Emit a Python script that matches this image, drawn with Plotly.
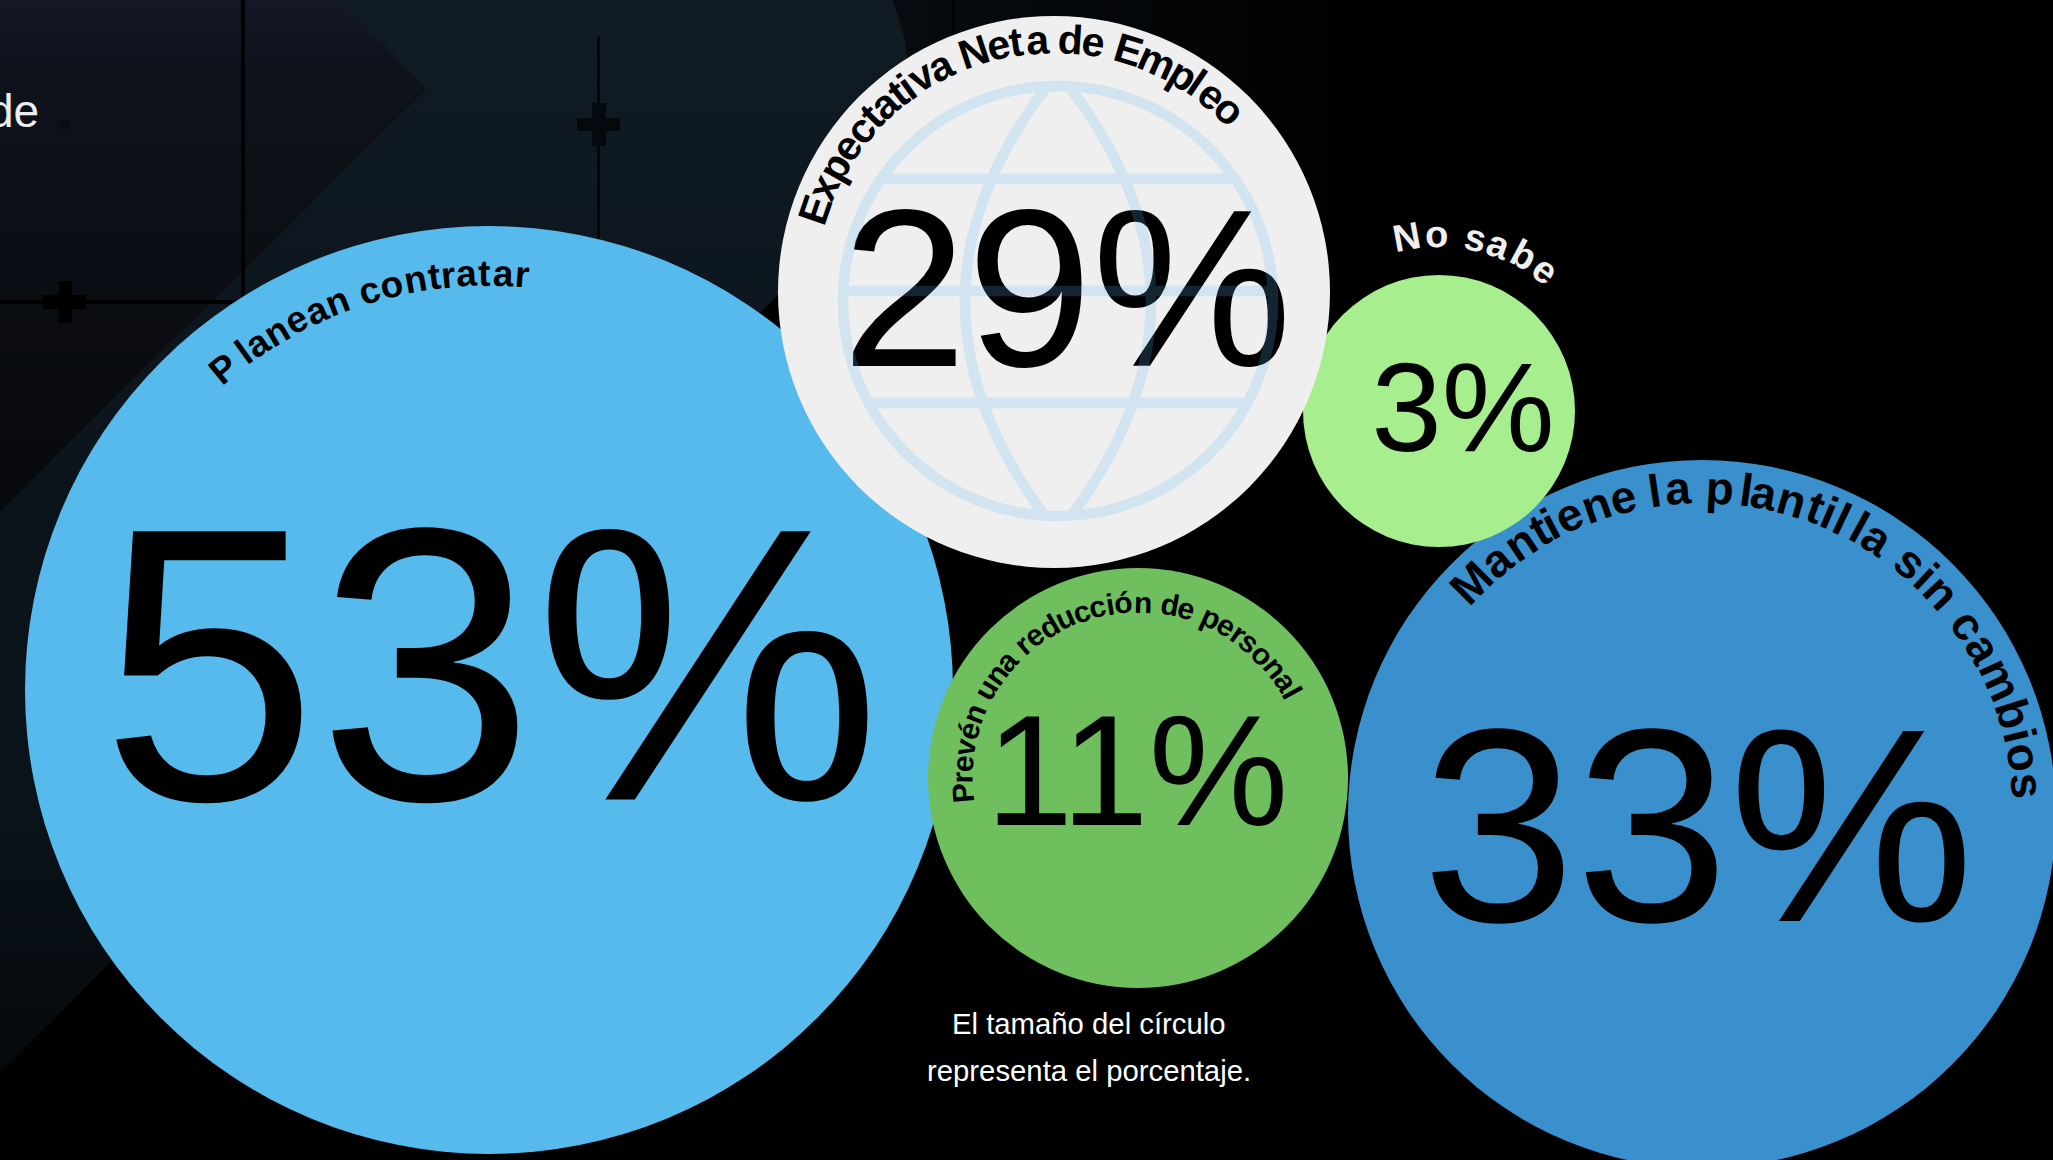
import math
import plotly.graph_objects as go

# ---------- data ----------
categories = ["Planean contratar", "Mantiene la plantilla sin cambios", "Prevén una reducción de personal",
              "No sabe", "Expectativa Neta de Empleo"]
values = [53, 33, 11, 3, 29]
caption_lines = ["El tamaño del círculo", "representa el porcentaje."]
cropped_word = "de"

# ---------- layout of the picture (pixel space) ----------
W, H = 2053, 1160
centers_x = [489, 1702, 1138, 1439, 1054]
centers_y = [690, 814, 778, 411, 292]
radii = [464, 354, 210, 136, 276]
colors = ["#56BAED", "#3A90CC", "#70BF5F", "#A7EE8E", "#EFEFEF"]
pct_x = [491, 1698, 1137, 1463, 1067]
pct_y = [702, 852, 786, 419, 310]
pct_size = [390, 276, 157, 127, 225]
arc_radius = [417, 327, 176, 177, 253]
arc_start = [-39.5, -45, -95, -10.5, -71]
arc_end = [4.5, 85, 61, 37, 44]
arc_size = [37, 46, 30, 38, 41]
arc_color = ["#000000", "#000000", "#000000", "#EFEFEF", "#000000"]
# uneven letter gaps seen in the reference: {index of the letter: extra width before it}
arc_gaps = [{1: 170, 15: 40},
            {4: -60, 9: -60, 10: 60, 13: 90, 14: -60, 19: 110, 16: 30},
            {19: 50},
            {},
            {8: -40, 9: 40, 15: 110, 16: -30, 24: 70, 23: -40}]

CW = {"a": 556, "b": 611, "c": 556, "d": 611, "e": 556, "f": 333, "g": 611, "h": 611, "i": 278, "j": 278,
      "k": 556, "l": 278, "m": 889, "n": 611, "o": 611, "p": 611, "q": 611, "r": 389, "s": 556, "t": 333,
      "u": 611, "v": 556, "w": 778, "x": 556, "y": 556, "z": 500, " ": 278, "E": 667, "M": 833, "N": 722,
      "P": 667, "é": 556, "ó": 611}


def arc_annotations(label, cx, cy, rad, a0, a1, size, color, gaps):
    mids, run = [], 0
    for i, c in enumerate(label):
        run += gaps.get(i, 0)
        v = CW[c]
        mids.append(run + v / 2)
        run += v
    out = []
    for ch, m in zip(label, mids):
        th = a0 + (m - mids[0]) / (mids[-1] - mids[0]) * (a1 - a0)
        if ch == " ":
            continue
        t = math.radians(th)
        out.append(dict(x=cx + rad * math.sin(t), y=cy - rad * math.cos(t), text=ch, textangle=th,
                        showarrow=False, xanchor="center", yanchor="middle", xref="x", yref="y",
                        font=dict(family="Liberation Sans", size=size, color=color, weight="bold")))
    return out


fig = go.Figure()


def poly(xs, ys, grad):
    fig.add_trace(go.Scatter(x=xs, y=ys, mode="lines", line=dict(width=0), fill="toself",
                             fillgradient=grad, hoverinfo="skip", showlegend=False))


# background shapes
poly([893, 2053, 2053, 930, 930, 912, 905, 893], [0, 0, 292, 292, 143, 100, 40, 0],
     dict(type="horizontal", start=900, stop=1380, colorscale=[[0, "#070c10"], [1, "#000000"]]))
poly([0, 893, 905, 912, 930, 0, 0], [0, 0, 40, 100, 143, 1073, 0],
     dict(type="vertical", start=0, stop=1073,
          colorscale=[[0, "#101b24"], [0.45, "#0c141b"], [0.75, "#0b131a"], [1, "#04090b"]]))
poly([0, 338, 427, 0, 0], [0, 0, 89, 511, 0],
     dict(type="vertical", start=0, stop=511,
          colorscale=[[0, "#141826"], [0.15, "#0e121b"], [0.5, "#0b0e14"], [1, "#08090b"]]))

# grid lines and crosses of the backdrop
def bar(x0, x1, y0, y1, col):
    fig.add_trace(go.Scatter(x=[x0, x1, x1, x0, x0], y=[y0, y0, y1, y1, y0], mode="lines", line=dict(width=0),
                             fill="toself", fillcolor=col, hoverinfo="skip", showlegend=False))


for b in [(241, 245, 0, 330, "#000000"), (0, 240, 300, 304, "#000000"), (43, 86, 295, 309, "#000000"),
          (59, 72, 281, 323, "#000000"), (597, 600, 36, 240, "#03070a"), (577, 620, 118, 131, "#03090c"),
          (592, 606, 103, 146, "#03090c"), (952, 955, 0, 60, "#020406"), (59, 70, 119, 130, "#0a0d13")]:
    bar(*b)

# circles
for cx, cy, r, c in zip(centers_x, centers_y, radii, colors):
    fig.add_trace(go.Scatter(x=[cx], y=[cy], mode="markers", hoverinfo="skip", showlegend=False, cliponaxis=False,
                             marker=dict(size=2 * r, color=c, line=dict(width=0), opacity=1)))

# percentages
for v, x, y, s in zip(values, pct_x, pct_y, pct_size):
    fig.add_trace(go.Scatter(x=[x], y=[y], mode="text", text=[f"{v}%"], textposition="middle center",
                             hoverinfo="skip", showlegend=False, cliponaxis=False,
                             textfont=dict(family="Liberation Sans", size=s, color="#000000")))

# globe drawn over the 29 %
gx, gy, gr = 1058, 301, 215
k = 0.5523 * gr
globe = (f"M {gx-gr} {gy} C {gx-gr} {gy-k} {gx-k} {gy-gr} {gx} {gy-gr} "
         f"C {gx+k} {gy-gr} {gx+gr} {gy-k} {gx+gr} {gy} "
         f"C {gx+gr} {gy+k} {gx+k} {gy+gr} {gx} {gy+gr} "
         f"C {gx-k} {gy+gr} {gx-gr} {gy+k} {gx-gr} {gy} Z "
         f"M {gx-gr} 291 L {gx+gr} 291 M 879 179 L 1236 179 M 871 403 L 1244 403 "
         f"M {gx-13} {gy-212} Q {gx-173} {gy} {gx-13} {gy+215} "
         f"M {gx+13} {gy-212} Q {gx+173} {gy} {gx+13} {gy+215}")
shapes = [dict(type="path", path=globe, xref="x", yref="y", layer="above",
               line=dict(color="rgba(88,186,238,0.2)", width=10.5), fillcolor="rgba(0,0,0,0)")]

ann = []
for label, cx, cy, rad, a0, a1, size, col, gaps in zip(categories, centers_x, centers_y, arc_radius, arc_start,
                                                       arc_end, arc_size, arc_color, arc_gaps):
    ann += arc_annotations(label, cx, cy, rad, a0, a1, size, col, gaps)

for line, y in zip(caption_lines, [1023, 1070]):
    ann.append(dict(x=1089, y=y, text=line, showarrow=False, xanchor="center", yanchor="middle", xref="x", yref="y",
                    font=dict(family="Liberation Sans", size=29.3, color="#FFFFFF")))
ann.append(dict(x=41, y=111, text=cropped_word, showarrow=False, xanchor="right", yanchor="middle", xref="x", yref="y",
                font=dict(family="Liberation Sans", size=46, color="#EDEDED")))

fig.update_layout(width=W, height=H, margin=dict(l=0, r=0, t=0, b=0), paper_bgcolor="#000000",
                  plot_bgcolor="#000000", showlegend=False, shapes=shapes, annotations=ann,
                  xaxis=dict(range=[0, W], visible=False, fixedrange=True),
                  yaxis=dict(range=[H, 0], visible=False, fixedrange=True))
fig.write_html("out.html", config=dict(displayModeBar=False),
               post_script="document.body.style.margin='0';document.body.style.background='#000';"
                           "document.body.style.overflow='hidden';")
